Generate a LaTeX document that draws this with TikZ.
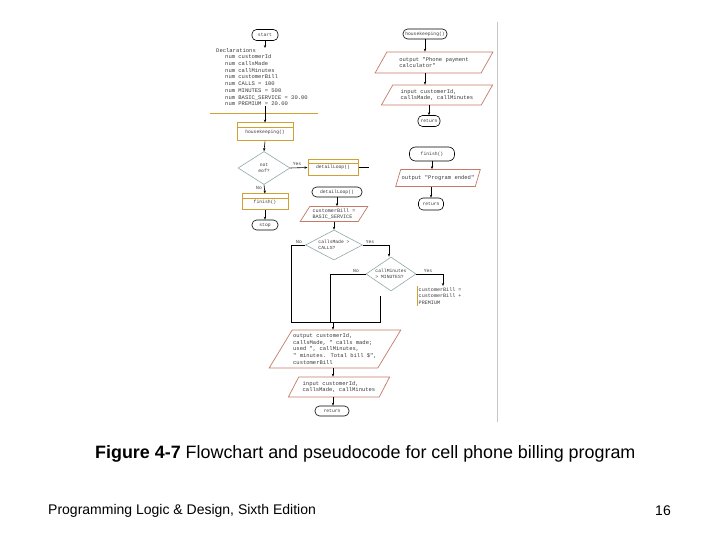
\documentclass[tikz,border=0pt]{standalone}
\usepackage{fontspec}
\setmainfont{Liberation Sans}
\newfontfamily\fcmono{Liberation Mono}
\usetikzlibrary{shapes.geometric,arrows.meta}
\definecolor{goldc}{HTML}{D0A030}
\definecolor{tealc}{HTML}{8FA9AA}
\definecolor{parac}{HTML}{C47A66}
\definecolor{txtc}{HTML}{3A3A3A}
\tikzset{
  fc/.style={font=\fcmono\fontsize{5.5}{6.7}\selectfont, text=txtc},
  fcs/.style={font=\fcmono\fontsize{4.7}{5.6}\selectfont, text=txtc},
  fcm/.style={font=\fcmono\fontsize{5.1}{6.4}\selectfont, text=txtc},
  term/.style={fcs, draw=black, line width=0.6pt, rounded corners=4.5pt, inner sep=1pt, align=center},
  predef/.style={fcs, draw=goldc, line width=1pt, inner sep=1pt, align=center,
     path picture={\draw[goldc, line width=0.7pt] ([yshift=-4pt]path picture bounding box.north west) -- ([yshift=-4pt]path picture bounding box.north east);}},
  dec/.style={fcs, draw=tealc, line width=0.6pt, diamond, inner sep=0pt, align=left, shape aspect=1.7},
  para/.style={fc, draw=parac, line width=0.7pt, trapezium, trapezium left angle=55, trapezium right angle=125, trapezium stretches=true, inner sep=1pt, align=left},
  conn/.style={line width=0.6pt, black},
  arr/.style={conn, -{Stealth[length=3pt,width=2.4pt]}},
  lbl/.style={fcs, inner sep=0pt}
}
\begin{document}
\begin{tikzpicture}[x=1pt,y=-1pt]
\useasboundingbox (0,0) rectangle (720,540);
\fill[white] (0,0) rectangle (720,540);

% right edge of scanned figure
\draw[gray!45, line width=0.5pt] (497.5,22) -- (497.5,422);

% ---------- main line ----------
\node[term, minimum width=26pt, minimum height=11pt] (start) at (265,35) {start};
\node[fc, anchor=north west, align=left, inner sep=0pt] (decl) at (216,48) {Declarations\\
\hspace*{9pt}num customerId\\
\hspace*{9pt}num callsMade\\
\hspace*{9pt}num callMinutes\\
\hspace*{9pt}num customerBill\\
\hspace*{9pt}num CALLS = 100\\
\hspace*{9pt}num MINUTES = 500\\
\hspace*{9pt}num BASIC\_SERVICE = 30.00\\
\hspace*{9pt}num PREMIUM = 20.00};
\coordinate (ylL) at (210,113.5);
\coordinate (ylR) at (318,113.5);
\draw[goldc, line width=1pt] (ylL) -- (ylR);
\draw[arr] (start.south) -- (start.south |- decl.north);

\node[predef, minimum width=56pt, minimum height=18pt] (hk) at (265,132) {\raisebox{-2pt}{housekeeping()}};
\draw[arr] (hk.north |- decl.south) -- (hk.north);

\node[dec, minimum width=52pt, minimum height=33pt, align=center] (eof) at (264,168) {not\\eof?};
\draw[arr] (hk.south) -- (eof.north);

\node[predef, minimum width=50pt, minimum height=16pt] (dl) at (333,167.5) {\raisebox{-2pt}{detailLoop()}};
\coordinate (dlEnd) at (369,167.5);
\draw[arr] (eof.east) -- (dl.west);
\draw[conn] (dl.east) -- (dlEnd);
\node[lbl, anchor=south] (yes0) at (297,166) {Yes};

\node[predef, minimum width=46pt, minimum height=16pt] (fin) at (265,202) {\raisebox{-2pt}{finish()}};
\draw[arr] (eof.south) -- (fin.north);
\node[lbl] (no0) at (259,188) {No};

\node[term, minimum width=26pt, minimum height=10pt] (stop) at (265,225) {stop};
\draw[arr] (fin.south) -- (stop.north);

% ---------- housekeeping module ----------
\node[term, minimum width=44pt, minimum height=10pt] (hkT) at (425,34) {housekeeping()};
\node[para, minimum width=118pt, minimum height=21pt] (out1) at (434,62.5) {output "Phone payment\\calculator"};
\node[para, minimum width=112pt, minimum height=20pt] (in1) at (437,95) {input customerId,\\callsMade, callMinutes};
\node[term, minimum width=22pt, minimum height=11pt] (ret1) at (429,121) {return};
\draw[arr] (hkT.south) -- (hkT.south |- out1.north);
\draw[arr] (hkT.south |- out1.south) -- (hkT.south |- in1.north);
\draw[arr] (ret1.north |- in1.south) -- (ret1.north);

% ---------- finish module ----------
\node[term, minimum width=45pt, minimum height=14pt, rounded corners=6pt] (finT) at (432,154) {finish()};
\node[para, minimum width=77pt, minimum height=17pt] (out2) at (438,178) {output "Program ended"};
\node[term, minimum width=25pt, minimum height=12pt] (ret2) at (431,204) {return};
\draw[arr] (finT.south) -- (finT.south |- out2.north);
\draw[arr] (ret2.north |- out2.south) -- (ret2.north);

% ---------- detailLoop module ----------
\node[term, minimum width=50pt, minimum height=10pt] (dlT) at (337,192) {detailLoop()};
\node[para, fcm, minimum width=68pt, minimum height=15pt] (bill1) at (334,214) {customerBill =\\BASIC\_SERVICE};
\draw[arr] (dlT.south) -- (dlT.south |- bill1.north);
\node[dec, minimum width=57pt, minimum height=30pt] (d1) at (334,245) {callsMade >\\CALLS?};
\draw[arr] (bill1.south -| d1.north) -- (d1.north);

\coordinate (c1) at (291,245);
\coordinate (j1) at (291,322.5);
\draw[conn] (d1.west) -- (c1) -- (j1);
\node[lbl, anchor=south] (no1) at (299,244) {No};

\node[dec, minimum width=50pt, minimum height=34pt] (d2) at (391,274) {callMinutes\\> MINUTES?};
\coordinate (c2) at (389,245);
\draw[conn] (d1.east) -- (c2);
\draw[arr] (c2) -- (c2 |- d2.north);
\node[lbl, anchor=south] (yes1) at (370,244) {Yes};

\coordinate (c3) at (330,274);
\coordinate (j3) at (330,322.5);
\draw[conn] (d2.west) -- (c3) -- (j3);
\node[lbl, anchor=south] (no2) at (356,273) {No};

\coordinate (c4) at (443,274);
\node[fcm, anchor=north west, align=left, inner sep=1.5pt] (prem) at (417,286) {customerBill =\\customerBill +\\PREMIUM};
\draw[goldc, line width=1pt] (prem.north west) -- (prem.south west);
\draw[conn] (d2.east) -- (c4);
\draw[arr] (c4) -- (c4 |- prem.north);
\node[lbl, anchor=south] (yes2) at (428,273) {Yes};

\coordinate (c5) at (380,296);
\coordinate (j5) at (380,322.5);
\draw[conn] (c5) -- (j5);
\draw[conn] (j1) -- (j5);

\node[para, minimum width=126pt, minimum height=38pt] (out3) at (335,349) {output customerId,\\callsMade, " calls made;\\used ", callMinutes,\\" minutes. Total bill \$",\\customerBill};
\coordinate (j0) at (333,322.5);
\draw[arr] (j0) -- (j0 |- out3.north);

\node[para, minimum width=102pt, minimum height=20pt] (in3) at (339,387) {input customerId,\\callsMade, callMinutes};
\draw[arr] (j0 |- out3.south) -- (j0 |- in3.north);

\node[term, minimum width=34pt, minimum height=10pt] (ret3) at (332,411) {return};
\draw[arr] (j0 |- in3.south) -- (j0 |- ret3.north);

% ---------- captions ----------
\node[anchor=west, inner sep=0pt, font=\fontsize{17.9}{21}\selectfont] (cap) at (95,453.5) {\textbf{Figure 4-7} Flowchart and pseudocode for cell phone billing program};
\node[anchor=west, inner sep=0pt, font=\fontsize{14}{16}\selectfont] (foot) at (48,511) {Programming Logic \& Design, Sixth Edition};
\node[anchor=east, inner sep=0pt, font=\fontsize{14}{16}\selectfont] (pg) at (671,511) {16};
\end{tikzpicture}
\end{document}
